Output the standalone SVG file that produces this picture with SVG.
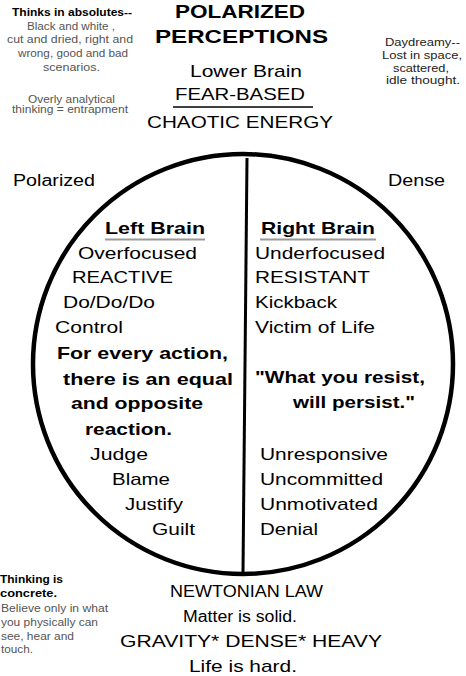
<svg xmlns="http://www.w3.org/2000/svg" width="466" height="676" viewBox="0 0 466 676">
<style>
text{font-family:"Liberation Sans",Arial,sans-serif;fill:#000}
.sm{font-size:10px;fill:#555}
.smb{font-size:10px;font-weight:bold;fill:#000}
.dd{font-size:10.5px;fill:#222}
.ttl{font-size:19px;font-weight:bold}
.sub{font-size:17px}
.c{font-size:17px}
.cb{font-size:17px;font-weight:bold}
.side{font-size:16px}
</style>
<rect width="466" height="676" fill="#fff"/>
<g id="note-absolutes">
<text class="smb" x="12" y="16" textLength="120" lengthAdjust="spacingAndGlyphs">Thinks in absolutes--</text>
<text class="sm" x="27" y="30" textLength="88" lengthAdjust="spacingAndGlyphs">Black and white ,</text>
<text class="sm" x="7" y="43" textLength="126" lengthAdjust="spacingAndGlyphs">cut and dried, right and</text>
<text class="sm" x="18" y="57" textLength="110" lengthAdjust="spacingAndGlyphs">wrong, good and bad</text>
<text class="sm" x="43" y="71" textLength="57" lengthAdjust="spacingAndGlyphs">scenarios.</text>
<text class="sm" x="28" y="103" textLength="87" lengthAdjust="spacingAndGlyphs">Overly analytical</text>
<text class="sm" x="12" y="113" textLength="116" lengthAdjust="spacingAndGlyphs">thinking = entrapment</text>
</g>
<g id="title">
<text class="ttl" x="175" y="18" textLength="130" lengthAdjust="spacingAndGlyphs">POLARIZED</text>
<text class="ttl" x="155" y="43" textLength="173" lengthAdjust="spacingAndGlyphs">PERCEPTIONS</text>
<text class="sub" x="190" y="77" textLength="112" lengthAdjust="spacingAndGlyphs">Lower Brain</text>
<text class="sub" x="175" y="100" textLength="130" lengthAdjust="spacingAndGlyphs">FEAR-BASED</text>
<line x1="173" y1="107" x2="313" y2="107" stroke="#000" stroke-width="1.5"/>
<text class="sub" x="147" y="128" textLength="186" lengthAdjust="spacingAndGlyphs">CHAOTIC ENERGY</text>
</g>
<g id="note-daydreamy">
<text class="dd" x="385" y="46" textLength="75" lengthAdjust="spacingAndGlyphs">Daydreamy--</text>
<text class="dd" x="382" y="59" textLength="80" lengthAdjust="spacingAndGlyphs">Lost in space,</text>
<text class="dd" x="393" y="72" textLength="56" lengthAdjust="spacingAndGlyphs">scattered,</text>
<text class="dd" x="386" y="84" textLength="74" lengthAdjust="spacingAndGlyphs">idle thought.</text>
</g>
<g id="label-polarized"><text class="side" x="13" y="186" textLength="82" lengthAdjust="spacingAndGlyphs">Polarized</text></g>
<g id="label-dense"><text class="side" x="388" y="186" textLength="57" lengthAdjust="spacingAndGlyphs">Dense</text></g>
<g id="brain-circle">
<circle cx="243" cy="364" r="210" fill="none" stroke="#000" stroke-width="4.5"/>
</g>
<g id="connectors">
<line x1="247" y1="158" x2="243" y2="572" stroke="#000" stroke-width="3"/>
</g>
<g id="left-brain">
<text class="cb" x="105" y="234" textLength="100" lengthAdjust="spacingAndGlyphs">Left Brain</text>
<line x1="105" y1="239.5" x2="205" y2="239.5" stroke="#999" stroke-width="2"/>
<text class="c" x="78" y="259" textLength="119" lengthAdjust="spacingAndGlyphs">Overfocused</text>
<text class="c" x="72" y="283" textLength="101" lengthAdjust="spacingAndGlyphs">REACTIVE</text>
<text class="c" x="63" y="308" textLength="92" lengthAdjust="spacingAndGlyphs">Do/Do/Do</text>
<text class="c" x="55" y="333" textLength="68" lengthAdjust="spacingAndGlyphs">Control</text>
<text class="cb" x="57" y="359" textLength="171" lengthAdjust="spacingAndGlyphs">For every action,</text>
<text class="cb" x="63" y="385" textLength="170" lengthAdjust="spacingAndGlyphs">there is an equal</text>
<text class="cb" x="71" y="409" textLength="132" lengthAdjust="spacingAndGlyphs">and opposite</text>
<text class="cb" x="85" y="435" textLength="87" lengthAdjust="spacingAndGlyphs">reaction.</text>
<text class="c" x="90" y="460" textLength="58" lengthAdjust="spacingAndGlyphs">Judge</text>
<text class="c" x="112" y="485" textLength="58" lengthAdjust="spacingAndGlyphs">Blame</text>
<text class="c" x="125" y="510" textLength="58" lengthAdjust="spacingAndGlyphs">Justify</text>
<text class="c" x="152" y="535" textLength="43" lengthAdjust="spacingAndGlyphs">Guilt</text>
</g>
<g id="right-brain">
<text class="cb" x="261" y="234" textLength="114" lengthAdjust="spacingAndGlyphs">Right Brain</text>
<line x1="260" y1="239.5" x2="376" y2="239.5" stroke="#999" stroke-width="2"/>
<text class="c" x="255" y="259" textLength="130" lengthAdjust="spacingAndGlyphs">Underfocused</text>
<text class="c" x="255" y="283" textLength="115" lengthAdjust="spacingAndGlyphs">RESISTANT</text>
<text class="c" x="255" y="308" textLength="82" lengthAdjust="spacingAndGlyphs">Kickback</text>
<text class="c" x="255" y="333" textLength="120" lengthAdjust="spacingAndGlyphs">Victim of Life</text>
<text class="cb" x="255" y="383" textLength="170" lengthAdjust="spacingAndGlyphs">"What you resist,</text>
<text class="cb" x="293" y="408" textLength="122" lengthAdjust="spacingAndGlyphs">will persist."</text>
<text class="c" x="260" y="460" textLength="128" lengthAdjust="spacingAndGlyphs">Unresponsive</text>
<text class="c" x="260" y="485" textLength="123" lengthAdjust="spacingAndGlyphs">Uncommitted</text>
<text class="c" x="260" y="510" textLength="118" lengthAdjust="spacingAndGlyphs">Unmotivated</text>
<text class="c" x="260" y="535" textLength="58" lengthAdjust="spacingAndGlyphs">Denial</text>
</g>
<g id="newtonian">
<text class="side" x="170" y="597" textLength="153" lengthAdjust="spacingAndGlyphs">NEWTONIAN LAW</text>
<text class="side" x="183" y="622" textLength="114" lengthAdjust="spacingAndGlyphs">Matter is solid.</text>
<text class="c" x="120" y="647" textLength="262" lengthAdjust="spacingAndGlyphs">GRAVITY* DENSE* HEAVY</text>
<text class="c" x="189" y="672" textLength="108" lengthAdjust="spacingAndGlyphs">Life is hard.</text>
</g>
<g id="note-concrete">
<text class="smb" x="0" y="583" textLength="63" lengthAdjust="spacingAndGlyphs">Thinking is</text>
<text class="smb" x="0" y="597" textLength="57" lengthAdjust="spacingAndGlyphs">concrete.</text>
<text class="sm" x="1" y="612" textLength="107" lengthAdjust="spacingAndGlyphs">Believe only in what</text>
<text class="sm" x="1" y="626" textLength="97" lengthAdjust="spacingAndGlyphs">you physically can</text>
<text class="sm" x="1" y="640" textLength="73" lengthAdjust="spacingAndGlyphs">see, hear and</text>
<text class="sm" x="1" y="653" textLength="32" lengthAdjust="spacingAndGlyphs">touch.</text>
</g>
</svg>
